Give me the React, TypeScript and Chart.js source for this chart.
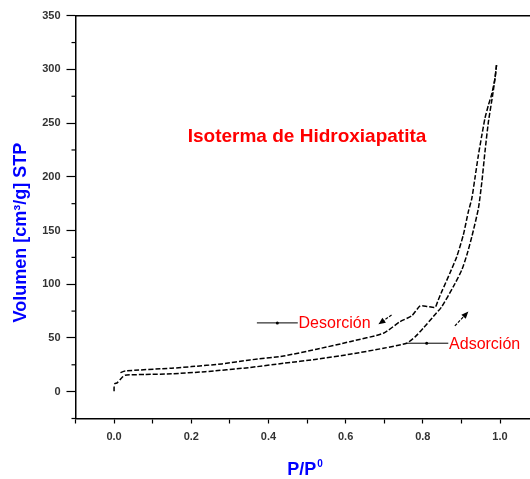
import { useEffect, useRef } from 'react';
import { Chart, registerables } from 'chart.js';

Chart.register(...registerables);

// ---- data ----
const adsX = [0.0, 0.0, 0.002, 0.008, 0.02, 0.0285, 0.08, 0.149, 0.236, 0.348, 0.439, 0.525, 0.611, 0.698, 0.758, 0.78, 0.801, 0.827, 0.849, 0.879, 0.901, 0.914, 0.927, 0.944, 0.953, 0.961, 0.97, 0.981, 0.987, 0.991];
const adsY = [0.3, 4, 7.5, 8.2, 13, 15.3, 16, 16.6, 18.6, 22.3, 26.4, 30.2, 34.8, 40.4, 45.1, 51, 59, 69.8, 79.1, 97.7, 113.3, 127.2, 144.3, 170.6, 195.4, 223.3, 251.3, 276.2, 291.7, 304];

const desX = [0.991, 0.987, 0.978, 0.97, 0.961, 0.953, 0.944, 0.935, 0.927, 0.918, 0.905, 0.888, 0.87, 0.849, 0.84, 0.832, 0.812, 0.793, 0.771, 0.741, 0.698, 0.611, 0.525, 0.439, 0.352, 0.279, 0.201, 0.149, 0.0285, 0.015];
const desY = [304, 291.7, 276.2, 266.9, 254.5, 238.9, 220.3, 198.6, 180, 167.6, 146, 125.7, 110.2, 93.1, 85.4, 78.6, 79.3, 79.8, 70.5, 65.2, 54.4, 46.5, 39.5, 33.2, 29.5, 25.8, 23.3, 21.8, 19.3, 17.5];

const xTickLabels = ['0.0', '0.2', '0.4', '0.6', '0.8', '1.0'];
const yTickLabels = ['0', '50', '100', '150', '200', '250', '300', '350'];

const chartTitle = 'Isoterma de Hidroxiapatita';
const yAxisTitle = 'Volumen [cm³/g] STP';
const xAxisTitleMain = 'P/P';
const xAxisTitleSup = '0';
const desLabel = 'Desorción';
const adsLabel = 'Adsorción';

// annotation anchors, in data units
const desLeader = { x0: 0.37, x1: 0.476, y: 64, dot: 0.423, textX: 0.478, textY: 63.7 };
const adsLeader = { x0: 0.758, x1: 0.866, y: 45.1, dot: 0.81, textX: 0.868, textY: 43.5 };
const desArrow = { x0: 0.719, y0: 71.4, x1: 0.685, y1: 62.7 };
const adsArrow = { x0: 0.883, y0: 61.2, x1: 0.918, y1: 74.5 };
const titlePos = { x: 0.5, y: 237 };
const yTitleValue = 148;
const xTitleValue = 0.495;

const FONT = '"Liberation Sans", Arial, sans-serif';

function arrow(ctx: CanvasRenderingContext2D, ax: number, ay: number, bx: number, by: number) {
  const ang = Math.atan2(by - ay, bx - ax);
  const hl = 7, hw = 3;
  ctx.beginPath();
  ctx.moveTo(ax, ay);
  ctx.lineTo(bx - Math.cos(ang) * hl * 0.7, by - Math.sin(ang) * hl * 0.7);
  ctx.stroke();
  ctx.beginPath();
  ctx.moveTo(bx, by);
  ctx.lineTo(bx - Math.cos(ang) * hl + Math.sin(ang) * hw, by - Math.sin(ang) * hl - Math.cos(ang) * hw);
  ctx.lineTo(bx - Math.cos(ang) * hl - Math.sin(ang) * hw, by - Math.sin(ang) * hl + Math.cos(ang) * hw);
  ctx.closePath();
  ctx.fill();
}

const decor = {
  id: 'decor',
  afterDraw(chart: any) {
    const { ctx, chartArea: ca, scales } = chart;
    const x = scales.x, y = scales.y;
    ctx.save();
    // top frame line
    ctx.strokeStyle = '#000';
    ctx.lineWidth = 1.5;
    ctx.beginPath();
    ctx.moveTo(ca.left, ca.top);
    ctx.lineTo(ca.right, ca.top);
    ctx.stroke();
    // minor y ticks
    ctx.lineWidth = 1.2;
    y.ticks.forEach((t: any) => {
      if (t.value % 50 !== 0) {
        const py = y.getPixelForValue(t.value);
        ctx.beginPath();
        ctx.moveTo(ca.left - 4, py);
        ctx.lineTo(ca.left, py);
        ctx.stroke();
      }
    });
    // y axis title
    ctx.save();
    ctx.translate(ca.left - 54, y.getPixelForValue(yTitleValue));
    ctx.rotate(-Math.PI / 2);
    ctx.font = `bold 18px ${FONT}`;
    ctx.fillStyle = '#0000ff';
    ctx.textAlign = 'center';
    ctx.textBaseline = 'middle';
    ctx.fillText(yAxisTitle, 0, 0);
    ctx.restore();
    // x axis title with superscript
    ctx.fillStyle = '#0000ff';
    ctx.textAlign = 'left';
    ctx.textBaseline = 'alphabetic';
    ctx.font = `bold 18px ${FONT}`;
    const wMain = ctx.measureText(xAxisTitleMain).width;
    ctx.font = `bold 10px ${FONT}`;
    const wSup = ctx.measureText(xAxisTitleSup).width;
    const cx = x.getPixelForValue(xTitleValue);
    const sx = cx - (wMain + wSup + 1) / 2;
    const base = ca.bottom + 56.5;
    ctx.font = `bold 18px ${FONT}`;
    ctx.fillText(xAxisTitleMain, sx, base);
    ctx.font = `bold 10px ${FONT}`;
    ctx.fillText(xAxisTitleSup, sx + wMain + 1, base - 8);
    // chart title
    ctx.font = `bold 19px ${FONT}`;
    ctx.fillStyle = '#ff0000';
    ctx.textAlign = 'center';
    ctx.textBaseline = 'middle';
    ctx.fillText(chartTitle, x.getPixelForValue(titlePos.x), y.getPixelForValue(titlePos.y));
    // leaders
    ctx.strokeStyle = '#000';
    ctx.fillStyle = '#000';
    ctx.lineWidth = 1;
    [desLeader, adsLeader].forEach((l) => {
      const py = y.getPixelForValue(l.y);
      ctx.beginPath();
      ctx.moveTo(x.getPixelForValue(l.x0), py);
      ctx.lineTo(x.getPixelForValue(l.x1), py);
      ctx.stroke();
      ctx.beginPath();
      ctx.arc(x.getPixelForValue(l.dot), py, 1.5, 0, Math.PI * 2);
      ctx.fill();
    });
    ctx.font = `16px ${FONT}`;
    ctx.fillStyle = '#ff0000';
    ctx.textAlign = 'left';
    ctx.textBaseline = 'middle';
    ctx.fillText(desLabel, x.getPixelForValue(desLeader.textX), y.getPixelForValue(desLeader.textY));
    ctx.fillText(adsLabel, x.getPixelForValue(adsLeader.textX), y.getPixelForValue(adsLeader.textY));
    // arrows
    ctx.strokeStyle = '#000';
    ctx.fillStyle = '#000';
    ctx.lineWidth = 1.2;
    ctx.setLineDash([3, 1.5]);
    [desArrow, adsArrow].forEach((a) => {
      arrow(ctx, x.getPixelForValue(a.x0), y.getPixelForValue(a.y0), x.getPixelForValue(a.x1), y.getPixelForValue(a.y1));
    });
    ctx.setLineDash([]);
    ctx.restore();
  },
};

export default function App() {
  const ref = useRef<HTMLCanvasElement | null>(null);
  useEffect(() => {
    if (!ref.current) return;
    const toPts = (xs: number[], ys: number[]) => xs.map((v, i) => ({ x: v, y: ys[i] }));
    const lineStyle = {
      showLine: true,
      borderColor: '#000',
      backgroundColor: '#000',
      borderWidth: 1.5,
      borderDash: [5, 2],
      pointRadius: 0,
      tension: 0.2,
      fill: false,
    };
    const chart = new Chart(ref.current, {
      type: 'scatter',
      data: {
        datasets: [
          { label: adsLabel, data: toPts(adsX, adsY), ...lineStyle },
          { label: desLabel, data: toPts(desX, desY), ...lineStyle },
        ],
      },
      options: {
        animation: false,
        responsive: false,
        devicePixelRatio: 1,
        layout: { padding: { top: 15.7, right: 21.4, left: 0, bottom: 0 } },
        plugins: { legend: { display: false }, tooltip: { enabled: false }, title: { display: false } },
        scales: {
          x: {
            type: 'linear',
            min: -0.1,
            max: 1.1,
            afterFit: (s: any) => { s.height = 60.5; },
            border: { display: true, color: '#000', width: 1.5 },
            grid: { display: true, drawOnChartArea: false, drawTicks: true, tickLength: 5, tickColor: '#000', tickWidth: 1.2 },
            ticks: {
              stepSize: 0.1,
              autoSkip: false,
              maxRotation: 0,
              padding: 7,
              color: '#333',
              font: { family: FONT, size: 11, weight: 'bold' },
              callback: (v: any) => {
                const k = Math.round(Number(v) * 10);
                if (k < 0 || k > 10 || k % 2 !== 0) return '';
                return xTickLabels[k / 2];
              },
            },
          },
          y: {
            type: 'linear',
            min: -25,
            max: 350,
            afterFit: (s: any) => { s.width = 75.5; },
            border: { display: true, color: '#000', width: 1.5 },
            grid: {
              display: true,
              drawOnChartArea: false,
              drawTicks: true,
              tickLength: 9,
              tickWidth: 1.2,
              tickColor: (c: any) => (c.tick && c.tick.value % 50 === 0 ? '#000' : 'rgba(0,0,0,0)'),
            },
            ticks: {
              stepSize: 25,
              autoSkip: false,
              padding: 6,
              color: '#333',
              font: { family: FONT, size: 11, weight: 'bold' },
              callback: (v: any) => {
                const n = Number(v);
                if (n < 0 || n % 50 !== 0) return '';
                return yTickLabels[n / 50];
              },
            },
          },
        },
      },
      plugins: [decor],
    });
    return () => chart.destroy();
  }, []);
  return (
    <div style={{ position: 'absolute', left: 0, top: 0, width: 530, height: 479, overflow: 'hidden', background: '#fff' }}>
      <canvas ref={ref} width={560} height={479} style={{ display: 'block' }} />
    </div>
  );
}
